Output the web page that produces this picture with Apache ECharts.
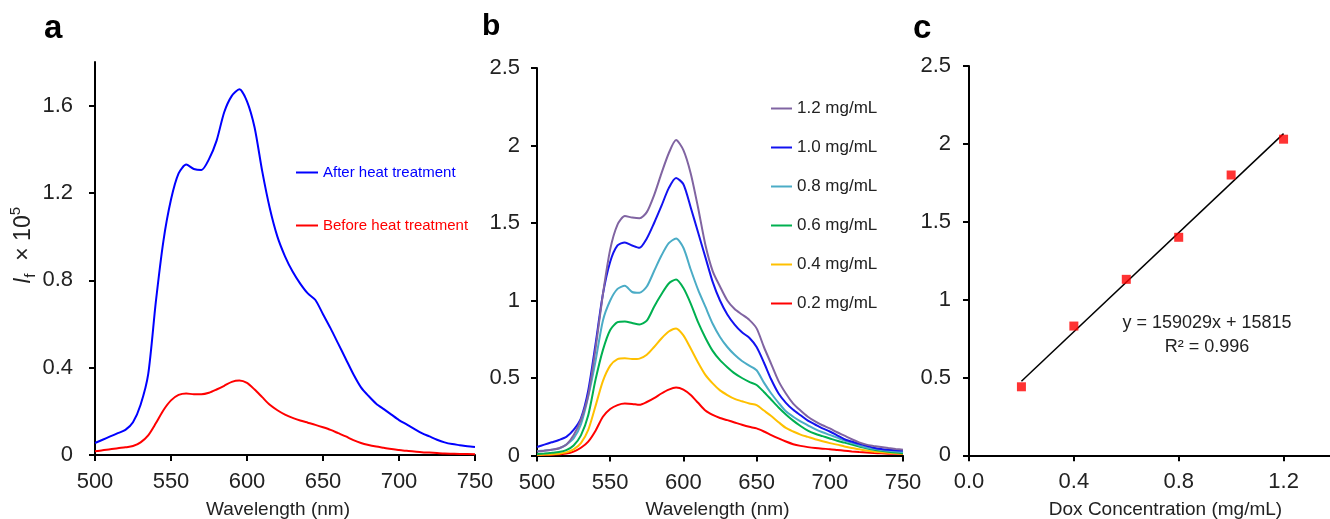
<!DOCTYPE html>
<html><head><meta charset="utf-8">
<script src="https://cdn.jsdelivr.net/npm/echarts@6/dist/echarts.min.js"></script>
<style>html,body{margin:0;padding:0;background:#fff}#c{width:1330px;height:519px}</style>
</head><body><div id="c"></div>
<script>
// ---------- data ----------
const wavelength = [500,505,510,515,520,525,530,535,540,545,550,555,560,565,570,575,580,585,590,595,600,605,610,615,620,625,630,635,640,645,650,655,660,665,670,675,680,685,690,695,700,705,710,715,720,725,730,735,740,745,750];

// panel a (intensity x 1e5)
const afterHeat = [0.055,0.07,0.085,0.10,0.115,0.15,0.23,0.37,0.70,0.98,1.17,1.29,1.33,1.31,1.305,1.355,1.44,1.57,1.645,1.675,1.62,1.50,1.30,1.13,1.00,0.91,0.84,0.785,0.74,0.71,0.645,0.58,0.51,0.44,0.37,0.31,0.27,0.235,0.21,0.185,0.16,0.14,0.12,0.10,0.085,0.07,0.058,0.05,0.045,0.04,0.037];
const beforeHeat = [0.017,0.022,0.026,0.031,0.035,0.041,0.058,0.09,0.145,0.205,0.25,0.275,0.282,0.278,0.278,0.285,0.30,0.317,0.335,0.341,0.33,0.30,0.265,0.23,0.205,0.185,0.17,0.158,0.148,0.138,0.127,0.115,0.10,0.085,0.068,0.055,0.046,0.039,0.033,0.027,0.023,0.019,0.016,0.013,0.011,0.009,0.007,0.006,0.005,0.005,0.004];

// panel b
const conc12 = [0.025,0.03,0.037,0.047,0.07,0.13,0.23,0.39,0.69,1.04,1.33,1.49,1.545,1.535,1.53,1.57,1.68,1.82,1.95,2.035,1.97,1.82,1.6,1.36,1.19,1.09,1.0,0.945,0.91,0.875,0.82,0.70,0.59,0.48,0.40,0.335,0.29,0.25,0.22,0.195,0.175,0.15,0.128,0.105,0.085,0.07,0.062,0.055,0.048,0.042,0.037];
const conc10 = [0.055,0.07,0.085,0.10,0.12,0.165,0.24,0.42,0.72,1.04,1.25,1.355,1.375,1.355,1.34,1.40,1.50,1.61,1.725,1.79,1.75,1.60,1.44,1.28,1.12,1.0,0.91,0.845,0.795,0.76,0.70,0.60,0.49,0.40,0.34,0.295,0.26,0.225,0.20,0.175,0.155,0.13,0.105,0.09,0.075,0.062,0.05,0.042,0.037,0.034,0.032];
const conc08 = [0.028,0.032,0.037,0.045,0.07,0.11,0.2,0.38,0.61,0.87,1.0,1.075,1.095,1.055,1.05,1.09,1.19,1.29,1.37,1.40,1.34,1.20,1.07,0.96,0.85,0.765,0.70,0.65,0.61,0.58,0.55,0.47,0.40,0.34,0.285,0.25,0.22,0.195,0.17,0.15,0.133,0.115,0.097,0.082,0.065,0.052,0.043,0.036,0.03,0.026,0.022];
const conc06 = [0.01,0.013,0.017,0.022,0.035,0.065,0.13,0.26,0.49,0.68,0.81,0.86,0.865,0.855,0.845,0.87,0.96,1.04,1.11,1.135,1.08,0.98,0.86,0.76,0.675,0.615,0.57,0.53,0.50,0.475,0.455,0.41,0.36,0.31,0.265,0.225,0.19,0.16,0.14,0.125,0.11,0.095,0.083,0.07,0.058,0.046,0.037,0.03,0.024,0.019,0.015];
const conc04 = [0.005,0.006,0.008,0.012,0.02,0.04,0.08,0.165,0.32,0.48,0.58,0.622,0.628,0.622,0.625,0.65,0.70,0.755,0.80,0.82,0.775,0.69,0.60,0.52,0.465,0.42,0.39,0.365,0.35,0.335,0.325,0.29,0.255,0.215,0.178,0.155,0.135,0.12,0.105,0.092,0.08,0.07,0.058,0.048,0.04,0.032,0.025,0.021,0.017,0.014,0.011];
const conc02 = [0.003,0.004,0.005,0.008,0.012,0.025,0.05,0.09,0.16,0.25,0.30,0.325,0.335,0.333,0.327,0.345,0.37,0.40,0.425,0.438,0.425,0.39,0.34,0.29,0.262,0.242,0.228,0.213,0.198,0.185,0.175,0.155,0.132,0.11,0.09,0.073,0.062,0.054,0.048,0.044,0.041,0.036,0.031,0.026,0.022,0.019,0.016,0.014,0.012,0.011,0.01];
const concNames = ['1.2 mg/mL','1.0 mg/mL','0.8 mg/mL','0.6 mg/mL','0.4 mg/mL','0.2 mg/mL'];

// panel c
const doxConc = [0.2,0.4,0.6,0.8,1.0,1.2];
const doxIntensity = [0.44,0.83,1.13,1.40,1.80,2.03];
const trendX = [0.2,1.2];
const trendY = [0.476,2.066];

// tick values
const ticksAy = [0,0.4,0.8,1.2,1.6];
const ticksBCy = [0,0.5,1,1.5,2,2.5];
const ticksWave = [500,550,600,650,700,750];
const ticksCx = [0,0.4,0.8,1.2];

// ---------- chart ----------
const FONT = '"Liberation Sans", Arial, sans-serif';
const TXT = '#222';
const pairs = (xs, ys) => xs.map((x, i) => [x, ys[i]]);

function xAx(grid, min, max, interval, ticks, fmt, name, pad) {
  return {
    type: 'value', gridIndex: grid, min: min, max: max, interval: interval,
    name: name, nameLocation: 'middle', nameGap: 45,
    nameTextStyle: {fontFamily: FONT, fontSize: 19, color: TXT, padding: pad},
    axisLine: {show: true, onZero: false, lineStyle: {color: '#000', width: 2}},
    axisTick: {show: true, inside: false, length: 6, lineStyle: {color: '#000', width: 2}, customValues: ticks},
    axisLabel: {fontFamily: FONT, fontSize: 22, color: TXT, margin: 16, customValues: ticks, formatter: fmt},
    splitLine: {show: false}
  };
}
function yAx(grid, min, max, interval, ticks, margin) {
  return {
    type: 'value', gridIndex: grid, min: min, max: max, interval: interval,
    axisLine: {show: true, onZero: false, lineStyle: {color: '#000', width: 2}},
    axisTick: {show: true, inside: false, length: 6, lineStyle: {color: '#000', width: 2}, customValues: ticks},
    axisLabel: {fontFamily: FONT, fontSize: 22, color: TXT, margin: margin, customValues: ticks},
    splitLine: {show: false}
  };
}

const yA = yAx(0, 0, 1.8, 0.4, ticksAy, 22);
yA.name = '{i|I}{s|f}{n|  × 10}{p|5}';
yA.nameLocation = 'middle';
yA.nameRotate = 90;
yA.nameGap = 52;
yA.nameTextStyle = {
  fontFamily: FONT, color: TXT, padding: [0, 0, 0, 26],
  rich: {
    i: {fontFamily: FONT, fontSize: 23, fontStyle: 'italic', color: TXT, lineHeight: 30, verticalAlign: 'middle'},
    s: {fontFamily: FONT, fontSize: 15, color: TXT, lineHeight: 30, verticalAlign: 'bottom'},
    n: {fontFamily: FONT, fontSize: 23, color: TXT, lineHeight: 30, verticalAlign: 'middle'},
    p: {fontFamily: FONT, fontSize: 15, color: TXT, lineHeight: 30, verticalAlign: 'top'}
  }
};

const bColors = ['#8064A2', '#1212F0', '#4BACC6', '#00B050', '#FFC000', '#FF0000'];
const bData = [conc12, conc10, conc08, conc06, conc04, conc02];

const lineSeries = (name, xi, yi, data, color) => ({
  name: name, type: 'line', xAxisIndex: xi, yAxisIndex: yi, data: data,
  showSymbol: false, symbol: 'none', smooth: 0.25, animation: false,
  lineStyle: {color: color, width: 2}, itemStyle: {color: color}
});

const series = [
  lineSeries('After heat treatment', 0, 0, pairs(wavelength, afterHeat), '#0000FF'),
  lineSeries('Before heat treatment', 0, 0, pairs(wavelength, beforeHeat), '#FF0000')
];
for (let k = bData.length - 1; k >= 0; k--) {
  series.push(lineSeries(concNames[k], 1, 1, pairs(wavelength, bData[k]), bColors[k]));
}
series.push({
  name: 'trend', type: 'line', xAxisIndex: 2, yAxisIndex: 2, data: pairs(trendX, trendY),
  showSymbol: false, symbol: 'none', animation: false, lineStyle: {color: '#000', width: 1.5}
});
series.push({
  name: 'Dox', type: 'scatter', xAxisIndex: 2, yAxisIndex: 2, data: pairs(doxConc, doxIntensity),
  symbol: 'rect', symbolSize: 9, itemStyle: {color: '#FF0000'}, animation: false, z: 5
});

const option = {
  backgroundColor: '#fff',
  animation: false,
  grid: [
    {left: 95, top: 62, width: 380, height: 393, containLabel: false, outerBoundsMode: 'none'},
    {left: 537, top: 68, width: 366, height: 387.5, containLabel: false, outerBoundsMode: 'none'},
    {left: 969, top: 66, width: 367, height: 389.3, containLabel: false, outerBoundsMode: 'none'}
  ],
  xAxis: [
    xAx(0, 500, 750, 50, ticksWave, null, 'Wavelength (nm)', [0, 14, 0, 0]),
    xAx(1, 500, 750, 50, ticksWave, null, 'Wavelength (nm)', [0, 5, 0, 0]),
    xAx(2, 0, 1.4, 0.2, ticksCx, v => v.toFixed(1), 'Dox Concentration (mg/mL)', [0, 0, 0, 26])
  ],
  yAxis: [
    yA,
    yAx(1, 0, 2.5, 0.5, ticksBCy, 17),
    yAx(2, 0, 2.5, 0.5, ticksBCy, 18)
  ],
  legend: [
    {
      left: 291, top: 160, orient: 'vertical', itemWidth: 22, itemHeight: 2, itemGap: 38,
      icon: 'rect', selectedMode: false,
      textStyle: {fontFamily: FONT, fontSize: 15},
      data: [
        {name: 'After heat treatment', textStyle: {color: '#0000FF'}},
        {name: 'Before heat treatment', textStyle: {color: '#FF0000'}}
      ]
    },
    {
      left: 766, top: 95, orient: 'vertical', itemWidth: 21, itemHeight: 2, itemGap: 22,
      icon: 'rect', selectedMode: false,
      textStyle: {fontFamily: FONT, fontSize: 17, color: TXT},
      data: concNames.slice()
    }
  ],
  graphic: [
    {type: 'text', left: 44, top: 12, style: {text: 'a', font: 'bold 33px ' + FONT, fill: '#000'}},
    {type: 'text', left: 482, top: 12, style: {text: 'b', font: 'bold 30px ' + FONT, fill: '#000'}},
    {type: 'text', left: 913, top: 12, style: {text: 'c', font: 'bold 33px ' + FONT, fill: '#000'}},
    {type: 'text', x: 1207, y: 323, style: {text: 'y = 159029x + 15815', font: '18px ' + FONT, fill: TXT, align: 'center', verticalAlign: 'middle'}},
    {type: 'text', x: 1207, y: 347, style: {text: 'R² = 0.996', font: '18px ' + FONT, fill: TXT, align: 'center', verticalAlign: 'middle'}}
  ],
  series: series
};

const chart = echarts.init(document.getElementById('c'), null, {renderer: 'canvas'});
chart.setOption(option);
</script>
</body></html>
